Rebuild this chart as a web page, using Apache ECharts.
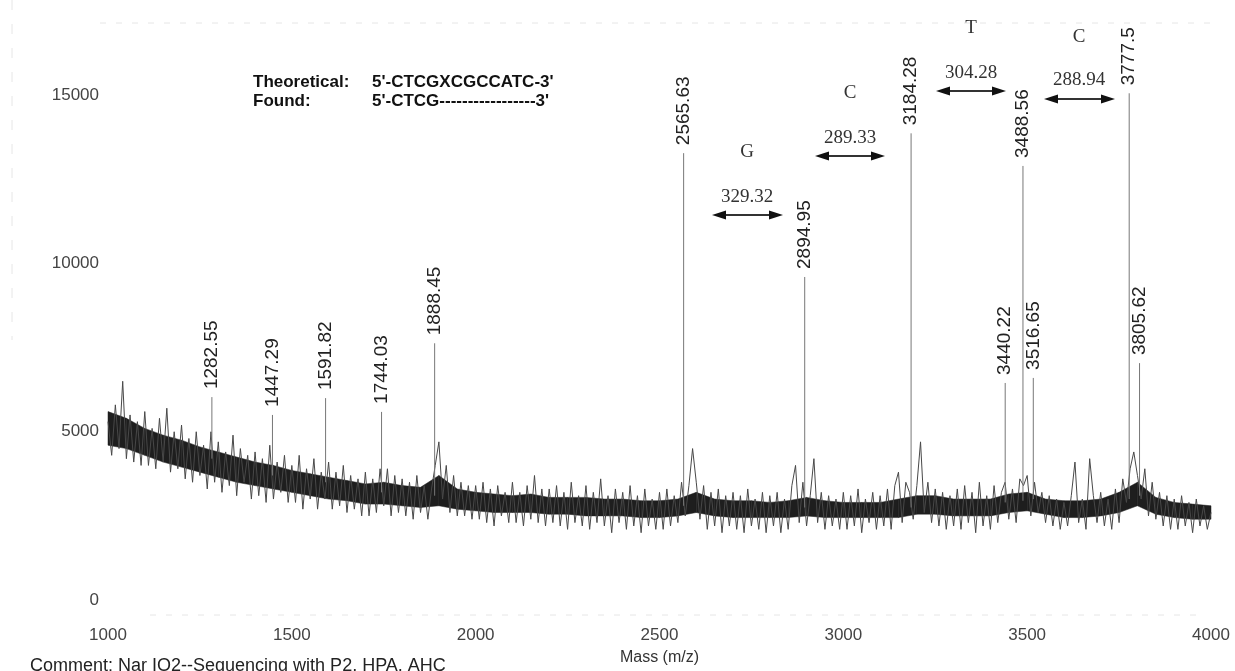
<!DOCTYPE html>
<html>
<head>
<meta charset="utf-8">
<script src="https://cdn.jsdelivr.net/npm/echarts@6/dist/echarts.min.js"></script>
<style>
  html, body { margin: 0; padding: 0; background: #fff; }
  #spectrum { width: 1235px; height: 671px; }
</style>
</head>
<body>
<div id="spectrum"></div>
<script>
// 质谱数据
var traceStart = 1000;   // m/z
var traceStep = 10;      // m/z
// 背景噪声轨迹，每 10 m/z 一个点，1000 ~ 4000
var traceValues = [
  5300, 4300, 5800, 4500, 6500, 4200, 5500, 4100, 5300, 4000,
  5600, 4000, 5100, 3900, 5400, 4100, 5700, 3800, 5000, 3900,
  5200, 3600, 4800, 3500, 5000, 3700, 4600, 3300, 5000, 3500,
  4700, 3200, 4400, 3400, 4900, 3100, 4500, 3500, 4300, 3000,
  4400, 3100, 4200, 2900, 4600, 3000, 4100, 3200, 4300, 2900,
  4000, 2900, 4300, 2700, 3900, 3000, 4200, 2700, 3800, 3000,
  4100, 2700, 3800, 2800, 4000, 2600, 3700, 2700, 3600, 2500,
  3800, 2500, 3600, 2600, 3900, 2800, 3900, 2500, 3700, 2600,
  3600, 2500, 3500, 2400, 3700, 2600, 3400, 2400, 3300, 4000,
  4700, 3000, 4000, 2600, 3700, 2500, 3500, 2500, 3400, 2400,
  3400, 2400, 3500, 2300, 3300, 2200, 3400, 2500, 3200, 2300,
  3500, 2300, 3200, 2200, 3400, 2400, 3700, 2300, 3300, 2200,
  3300, 2300, 3400, 2200, 3200, 2100, 3500, 2300, 3100, 2200,
  3400, 2100, 3200, 2300, 3600, 2200, 3100, 2000, 3300, 2300,
  3200, 2100, 3400, 2200, 3100, 2000, 3300, 2200, 3000, 2100,
  3200, 2100, 3300, 2200, 3100, 2300, 3500, 2500, 3400, 4500,
  3500, 2400, 3400, 2100, 3200, 2200, 3300, 2000, 3100, 2200,
  3200, 2100, 3100, 2000, 3300, 2200, 3000, 2100, 3200, 2000,
  3100, 2200, 3200, 2000, 3000, 2100, 3400, 4000, 2300, 3500,
  2200, 3100, 4200, 2300, 3200, 2100, 3100, 2200, 3000, 2100,
  3200, 2100, 3100, 2200, 3300, 2000, 3000, 2300, 3200, 2100,
  3100, 2200, 3300, 2100, 3400, 3800, 2300, 3500, 3200, 2400,
  3400, 4700, 2600, 3500, 2300, 3300, 2200, 3200, 2100, 3100,
  2200, 3300, 2100, 3400, 2300, 3200, 2000, 3500, 2200, 3100,
  2100, 3400, 2300, 3200, 3500, 2400, 3300, 2300, 3600, 3400,
  3700, 2500, 3500, 2600, 3200, 2300, 3100, 2200, 3000, 2100,
  2900, 2200, 3100, 4100, 2300, 3000, 2100, 4200, 3100, 2300,
  3200, 2200, 3000, 2100, 3300, 2300, 3600, 2900, 3900, 4400,
  3700, 3000, 3900, 2500, 3500, 2400, 3200, 2200, 3100, 2100,
  3000, 2100, 3100, 2200, 2900, 2000, 3000, 2200, 2800, 2100,
  2600
];

// 噪声带的深色核心（每 50 m/z 一个点）
var bandStep = 50;
var bandLower = [
  4600, 4500, 4300, 4100, 3950, 3800, 3650, 3500, 3400, 3300,
  3200, 3100, 3000, 2950, 2850, 2850, 2800, 2750, 2800, 2700,
  2650, 2600, 2600, 2600, 2550, 2550, 2500, 2500, 2500, 2450,
  2450, 2500, 2600, 2500, 2450, 2450, 2450, 2450, 2500, 2450,
  2450, 2450, 2450, 2450, 2550, 2550, 2500, 2500, 2500, 2600,
  2650, 2550, 2450, 2450, 2500, 2600, 2800, 2550, 2450, 2400,
  2400
];
var bandUpper = [
  5600, 5400, 5100, 4900, 4750, 4550, 4400, 4250, 4100, 4000,
  3850, 3750, 3650, 3550, 3450, 3500, 3400, 3350, 3700, 3300,
  3200, 3150, 3100, 3150, 3050, 3050, 3050, 3000, 3000, 2950,
  2950, 3000, 3200, 3000, 2950, 2950, 2900, 2950, 3050, 2950,
  2900, 2900, 2900, 3000, 3100, 3100, 3000, 3000, 3000, 3150,
  3200, 3000, 2950, 2950, 3000, 3200, 3500, 3050, 2900, 2850,
  2800
];

// 标注的峰
var peakMasses  = [1282.55, 1447.29, 1591.82, 1744.03, 1888.45, 2565.63, 2894.95, 3184.28, 3440.22, 3488.56, 3516.65, 3777.5, 3805.62];
var peakHeights = [6030, 5500, 6000, 5590, 7630, 13280, 9600, 13870, 6450, 12900, 6600, 15060, 7040];
var peakBases   = [4200, 3700, 3500, 3200, 3100, 2800, 2750, 2750, 2900, 2950, 3000, 3000, 3100];

var sansFont = '"Liberation Sans", Arial, sans-serif';
var serifFont = '"Liberation Serif", "Times New Roman", serif';

var traceData = [];
for (var i = 0; i < traceValues.length; i++) {
    traceData.push([traceStart + i * traceStep, traceValues[i]]);
}
var bandData = [];
for (var k = 0; k < bandLower.length; k++) {
    bandData.push([traceStart + k * bandStep, bandLower[k], bandUpper[k]]);
}
var peakData = [];
for (var j = 0; j < peakMasses.length; j++) {
    peakData.push([peakMasses[j], peakHeights[j], peakBases[j]]);
}

// 双向箭头
function makeArrow(x1, x2, y) {
    return {
        type: 'group',
        children: [
            { type: 'line', shape: { x1: x1 + 10, y1: y, x2: x2 - 10, y2: y }, style: { stroke: '#333', lineWidth: 2 } },
            { type: 'polygon', shape: { points: [[x1, y], [x1 + 14, y - 4.5], [x1 + 14, y + 4.5]] }, style: { fill: '#111' } },
            { type: 'polygon', shape: { points: [[x2, y], [x2 - 14, y - 4.5], [x2 - 14, y + 4.5]] }, style: { fill: '#111' } }
        ]
    };
}
function serifText(cx, cy, txt) {
    return { type: 'text', x: cx, y: cy, style: { text: txt, font: '19px ' + serifFont, fill: '#333', align: 'center', verticalAlign: 'middle' } };
}
function boldText(x, cy, txt) {
    return { type: 'text', x: x, y: cy, style: { text: txt, font: 'bold 17px ' + sansFont, fill: '#111', align: 'left', verticalAlign: 'middle' } };
}
function plainNum(v) { return String(v); }

var myChart = echarts.init(document.getElementById('spectrum'));
var option = {
    backgroundColor: '#fff',
    animation: false,
    grid: { left: 108, right: 24, top: 28, bottom: 71 },
    xAxis: {
        type: 'value',
        min: 1000,
        max: 4000,
        interval: 500,
        name: 'Mass (m/z)',
        nameLocation: 'middle',
        nameGap: 50,
        nameTextStyle: { fontFamily: sansFont, fontSize: 16, color: '#333' },
        axisLine: { show: false },
        axisTick: { show: false },
        splitLine: { show: false },
        axisLabel: { margin: 27, fontFamily: sansFont, fontSize: 17, color: '#444', formatter: plainNum }
    },
    yAxis: {
        type: 'value',
        min: 0,
        max: 17000,
        interval: 5000,
        axisLine: { show: false },
        axisTick: { show: false },
        splitLine: { show: false },
        axisLabel: { margin: 9, fontFamily: sansFont, fontSize: 17, color: '#444', showMaxLabel: false, formatter: plainNum }
    },
    series: [
        {
            // 深色噪声带：相邻两点之间画一个四边形
            name: 'band',
            type: 'custom',
            data: bandData,
            z: 1,
            renderItem: function (params, api) {
                var n = params.dataIndex;
                if (n >= bandData.length - 1) return null;
                var a = bandData[n], b = bandData[n + 1];
                var pts = [
                    api.coord([a[0], a[2]]), api.coord([b[0], b[2]]),
                    api.coord([b[0], b[1]]), api.coord([a[0], a[1]])
                ];
                return { type: 'polygon', shape: { points: pts }, style: { fill: '#1e1e1e', stroke: '#1e1e1e', lineWidth: 0.5 } };
            }
        },
        {
            name: 'trace',
            type: 'line',
            data: traceData,
            symbol: 'none',
            lineStyle: { color: '#484848', width: 1 },
            z: 2
        },
        {
            name: 'peaks',
            type: 'custom',
            data: peakData,
            z: 3,
            renderItem: function (params, api) {
                var top = api.coord([api.value(0), api.value(1)]);
                var bot = api.coord([api.value(0), api.value(2)]);
                return {
                    type: 'group',
                    children: [
                        { type: 'line', shape: { x1: top[0], y1: top[1], x2: bot[0], y2: bot[1] }, style: { stroke: '#777', lineWidth: 1 } },
                        {
                            type: 'text', x: top[0], y: top[1] - 8, rotation: Math.PI / 2,
                            style: { text: String(peakMasses[params.dataIndex]), font: '19px ' + sansFont, fill: '#222', align: 'left', verticalAlign: 'middle' }
                        }
                    ]
                };
            }
        }
    ],
    graphic: [
        // 序列说明
        boldText(253, 82, 'Theoretical:'),
        boldText(372, 82, "5'-CTCGXCGCCATC-3'"),
        boldText(253, 101, 'Found:'),
        boldText(372, 101, "5'-CTCG-----------------3'"),
        // 碱基与质量差
        serifText(747, 152, 'G'),
        serifText(747, 197, '329.32'),
        makeArrow(712, 783, 215),
        serifText(850, 93, 'C'),
        serifText(850, 138, '289.33'),
        makeArrow(815, 885, 156),
        serifText(971, 28, 'T'),
        serifText(971, 73, '304.28'),
        makeArrow(936, 1006, 91),
        serifText(1079, 37, 'C'),
        serifText(1079, 80, '288.94'),
        makeArrow(1044, 1115, 99),
        // 边框残影
        { type: 'line', shape: { x1: 100, y1: 23, x2: 1215, y2: 23 }, style: { stroke: '#e6e6e6', lineWidth: 1, lineDash: [6, 10] } },
        { type: 'line', shape: { x1: 150, y1: 615, x2: 1200, y2: 615 }, style: { stroke: '#e6e6e6', lineWidth: 1, lineDash: [6, 10] } },
        { type: 'line', shape: { x1: 12, y1: 0, x2: 12, y2: 340 }, style: { stroke: '#e6e6e6', lineWidth: 1, lineDash: [10, 14] } },
        // 注释
        { type: 'text', x: 30, y: 657, style: { text: 'Comment: Nar IO2--Sequencing with P2, HPA, AHC', font: '18px ' + sansFont, fill: '#222', align: 'left', verticalAlign: 'top' } }
    ]
};
myChart.setOption(option);
</script>
</body>
</html>
